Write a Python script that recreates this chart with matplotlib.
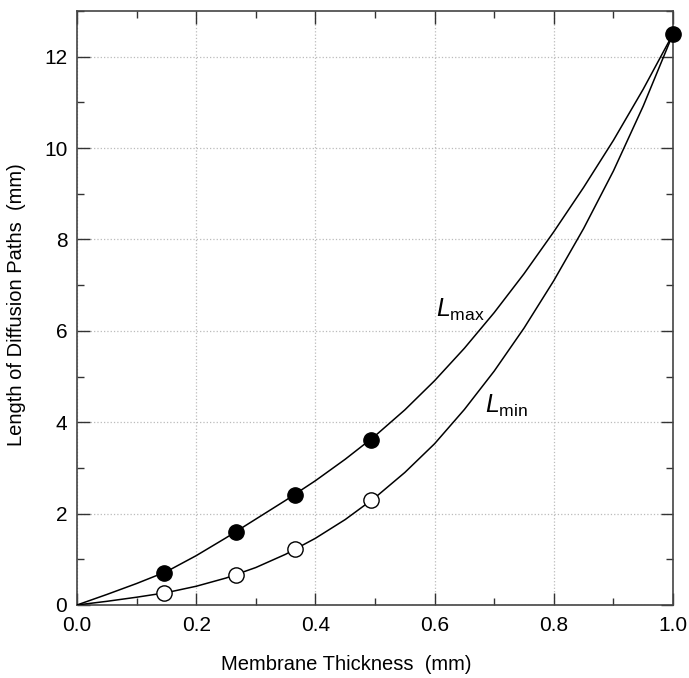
import matplotlib.pyplot as plt
from matplotlib.ticker import MultipleLocator

plt.rcParams['font.family'] = ['Liberation Sans', 'DejaVu Sans']
plt.rcParams['mathtext.fontset'] = 'custom'
plt.rcParams['mathtext.rm'] = 'Liberation Sans'
plt.rcParams['mathtext.it'] = 'Liberation Sans:italic'

# measured points
thickness = [0.146, 0.266, 0.366, 0.493, 1.0]
l_max_pts = [0.71, 1.60, 2.41, 3.61, 12.5]
thickness_min = [0.146, 0.266, 0.366, 0.493]
l_min_pts = [0.26, 0.66, 1.22, 2.30]

# curves
curve_x = [0.0, 0.05, 0.10, 0.15, 0.20, 0.25, 0.30, 0.35, 0.40, 0.45, 0.50,
           0.55, 0.60, 0.65, 0.70, 0.75, 0.80, 0.85, 0.90, 0.95, 1.0]
curve_max = [0.0, 0.23, 0.47, 0.73, 1.08, 1.47, 1.88, 2.29, 2.72, 3.19, 3.70,
             4.27, 4.91, 5.62, 6.40, 7.25, 8.17, 9.14, 10.17, 11.29, 12.5]
curve_min = [0.0, 0.08, 0.17, 0.27, 0.41, 0.59, 0.82, 1.11, 1.46, 1.87, 2.35,
             2.90, 3.53, 4.28, 5.12, 6.06, 7.10, 8.24, 9.50, 10.92, 12.5]

fig = plt.figure(figsize=(6.89, 6.78), dpi=100)
ax = fig.add_axes([0.1118, 0.1077, 0.865, 0.876])

ax.plot(curve_x, curve_max, color='black', lw=1.1, zorder=3)
ax.plot(curve_x, curve_min, color='black', lw=1.1, zorder=3)
ax.plot(thickness, l_max_pts, 'o', ms=11, mfc='black', mec='black', zorder=4, clip_on=False)
ax.plot(thickness_min, l_min_pts, 'o', ms=11, mfc='white', mec='black', mew=1.0, zorder=4)

ax.text(0.602, 6.30, r'$L_{\mathrm{max}}$', fontsize=18, ha='left', va='baseline')
ax.text(0.684, 4.20, r'$L_{\mathrm{min}}$', fontsize=18, ha='left', va='baseline')

ax.set_xlim(0, 1.0)
ax.set_ylim(0, 13)
ax.xaxis.set_major_locator(MultipleLocator(0.2))
ax.xaxis.set_minor_locator(MultipleLocator(0.1))
ax.yaxis.set_major_locator(MultipleLocator(2))
ax.yaxis.set_minor_locator(MultipleLocator(1))
ax.xaxis.set_major_formatter(plt.FuncFormatter(lambda v, p: f'{v:.1f}'))

ax.tick_params(which='both', direction='in', top=True, right=True, labelsize=15, color='#333333')
ax.tick_params(which='major', length=9, width=1.0)
ax.tick_params(which='minor', length=5, width=1.0)
ax.tick_params(axis='x', pad=8)
ax.tick_params(axis='y', pad=7)
for s in ax.spines.values():
    s.set_color('#444444')
    s.set_linewidth(1.2)

ax.grid(True, which='major', linestyle=':', color='#bbbbbb', lw=0.9)
ax.set_axisbelow(True)

ax.set_xlabel('Membrane Thickness  (mm)', fontsize=14.5)
ax.xaxis.set_label_coords(0.451, -0.084)
ax.set_ylabel('Length of Diffusion Paths  (mm)', fontsize=14.5)
ax.yaxis.set_label_coords(-0.085, 0.505)

fig.savefig('out.png', dpi=100)
